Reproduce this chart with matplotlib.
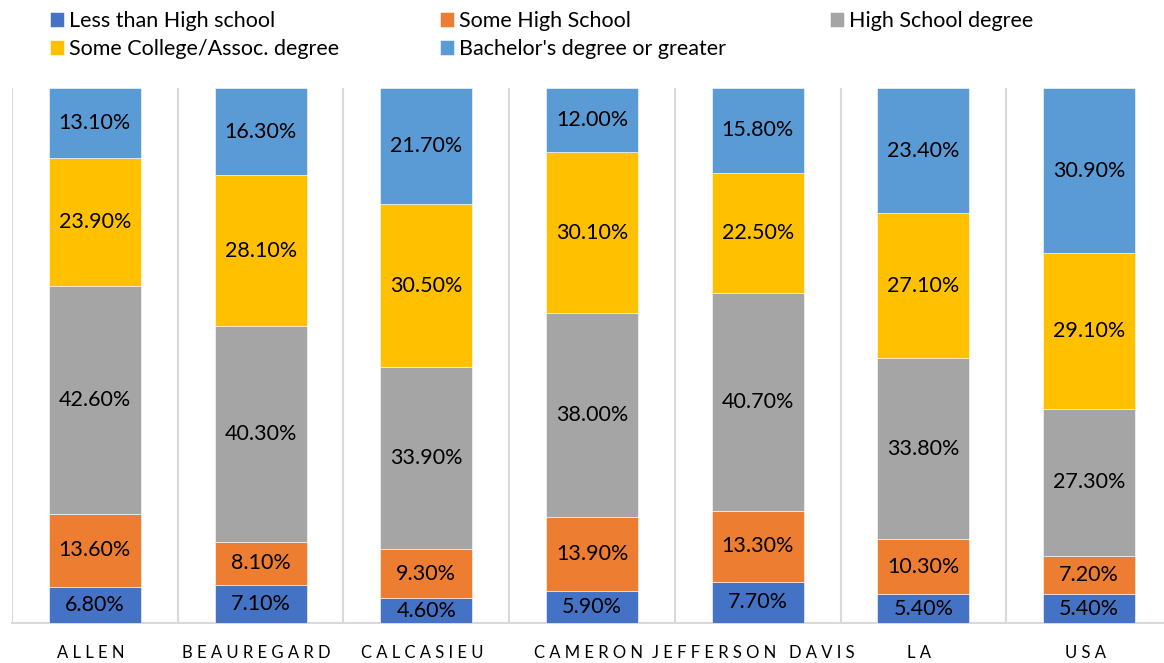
import numpy as np
import matplotlib
matplotlib.use("Agg")
import matplotlib.pyplot as plt
import matplotlib.transforms as mtransforms

plt.rcParams['font.family'] = ['Lato', 'DejaVu Sans']

# Educational attainment by parish (percent of adults 25+)
parishes = ['ALLEN', 'BEAUREGARD', 'CALCASIEU', 'CAMERON', 'JEFFERSON DAVIS', 'LA', 'USA']
less_than_hs = [6.8, 7.1, 4.6, 5.9, 7.7, 5.4, 5.4]
some_hs = [13.6, 8.1, 9.3, 13.9, 13.3, 10.3, 7.2]
hs_degree = [42.6, 40.3, 33.9, 38.0, 40.7, 33.8, 27.3]
some_college = [23.9, 28.1, 30.5, 30.1, 22.5, 27.1, 29.1]
bachelors = [13.1, 16.3, 21.7, 12.0, 15.8, 23.4, 30.9]

series = [
    ("Less than High school", less_than_hs, "#4472C4"),
    ("Some High School", some_hs, "#ED7D31"),
    ("High School degree", hs_degree, "#A5A5A5"),
    ("Some College/Assoc. degree", some_college, "#FFC000"),
    ("Bachelor's degree or greater", bachelors, "#5B9BD5"),
]

# 100% stacked: scale each column so it sums to 100
totals = np.sum([s[1] for s in series], axis=0)

fig = plt.figure(figsize=(11.64, 6.63), dpi=100)
ax = fig.add_axes([12 / 1164, 1 - 623 / 663, 1160 / 1164, 535 / 663])

x = np.arange(len(parishes))
bottom = np.zeros(len(parishes))
handles = {}
for name, vals, color in series:
    vals = np.array(vals)
    h = vals / totals * 100
    bars = ax.bar(x, h, 0.556, bottom=bottom, color=color, edgecolor='white',
                  linewidth=0.4, label=name, zorder=3)
    handles[name] = bars
    for xi, b, hi, v in zip(x, bottom, h, vals):
        ax.text(xi, b + hi / 2, f"{v:.2f}%", ha='center', va='center',
                fontsize=15.5, color='black', zorder=4)
    bottom += h


def spaced(label):
    # letter-spaced category names
    return "   ".join(" ".join(w) for w in label.split())


ax.set_xlim(-0.5, len(parishes) - 0.5)
ax.set_ylim(0, 100)
ax.set_yticks([])
ax.set_xticks(x)
ax.set_xticklabels([spaced(p) for p in parishes], fontsize=12)
ax.tick_params(axis='x', length=0, pad=16)
shift = mtransforms.ScaledTranslation(-4 / 100, 0, fig.dpi_scale_trans)
for lab in ax.get_xticklabels():
    lab.set_transform(lab.get_transform() + shift)

# vertical separators between categories
for b in np.arange(-0.5, len(parishes), 1.0):
    ax.axvline(b, color='#D9D9D9', linewidth=1.5, zorder=1)

for side in ['top', 'right', 'left']:
    ax.spines[side].set_visible(False)
ax.spines['bottom'].set_color('#D9D9D9')
ax.spines['bottom'].set_linewidth(1.5)

# legend laid out as three columns at fixed positions
columns = [
    (50, ["Less than High school", "Some College/Assoc. degree"]),
    (440, ["Some High School", "Bachelor's degree or greater"]),
    (830, ["High School degree"]),
]
for xpix, names in columns:
    fig.legend([handles[n] for n in names], names, loc='upper left',
               bbox_to_anchor=(xpix / 1164, 1 - 11 / 663), frameon=False,
               fontsize=15.5, borderpad=0, borderaxespad=0,
               handlelength=0.65, handleheight=0.65, handletextpad=0.25,
               labelspacing=0.38)

fig.savefig("out.png", dpi=100)
